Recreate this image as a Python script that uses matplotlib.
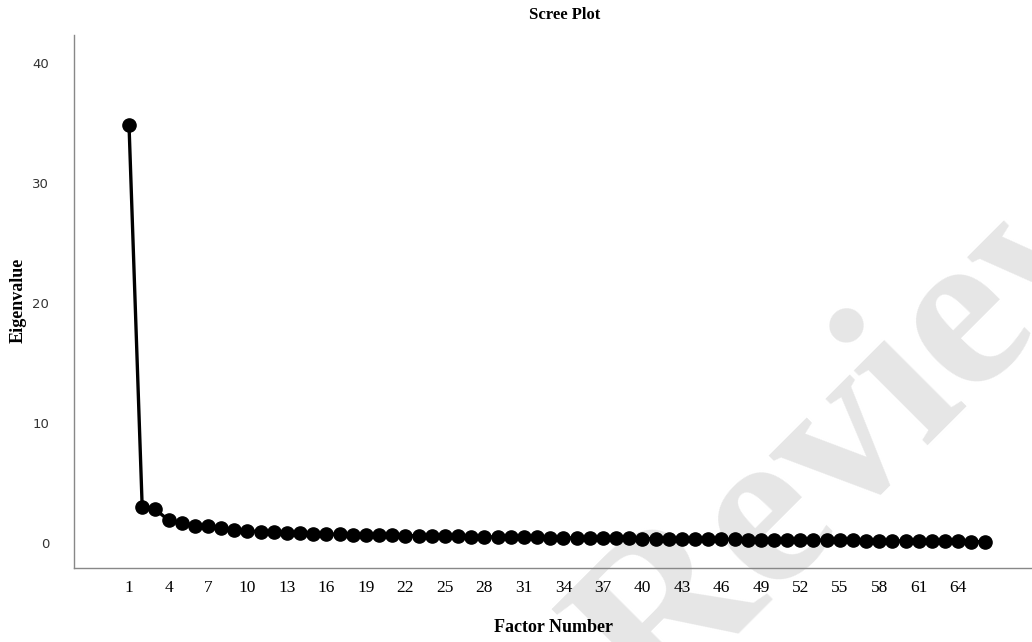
import matplotlib
matplotlib.use("Agg")
import matplotlib.pyplot as plt

factors = list(range(1, 67))
eigenvalues = [34.8, 3.0, 2.8, 1.9, 1.7, 1.45, 1.4, 1.25, 1.05, 1.0,
               0.95, 0.9, 0.85, 0.8, 0.78, 0.75, 0.72, 0.7, 0.68, 0.66,
               0.64, 0.62, 0.6, 0.58, 0.56, 0.55, 0.53, 0.52, 0.5, 0.49,
               0.47, 0.46, 0.45, 0.43, 0.42, 0.41, 0.4, 0.39, 0.38, 0.37,
               0.36, 0.35, 0.34, 0.33, 0.32, 0.31, 0.3, 0.29, 0.28, 0.27,
               0.26, 0.25, 0.24, 0.23, 0.22, 0.21, 0.2, 0.19, 0.18, 0.17,
               0.16, 0.15, 0.14, 0.13, 0.12, 0.11]
x_ticks = list(range(1, 65, 3))
y_ticks = [0, 10, 20, 30, 40]

fig = plt.figure(figsize=(10.32, 6.42), dpi=100)
ax = fig.add_axes([74/1032, 74/642, 1 - 74/1032, (568-35)/642])
ax.patch.set_alpha(0)

# faint watermark behind everything
fig.text(906/1032, 1 - 464/642, "Review", ha="center", va="baseline",
         rotation=45, rotation_mode="anchor", family="Liberation Serif",
         fontweight="bold", fontsize=165, color="#e6e6e6", zorder=-1)

ax.plot(factors[:len(eigenvalues)], eigenvalues, color="black", lw=2.4,
        marker="o", markersize=9.5, zorder=3)

ax.set_xlim(-3.18, 69.6)
ax.set_ylim(-2.08, 42.3)
ax.set_xticks(x_ticks)
ax.set_xticklabels([str(t) for t in x_ticks], family="Liberation Serif",
                   fontsize=12.5, color="black")
ax.set_yticks(y_ticks)
ax.set_yticklabels([str(t) for t in y_ticks], family="DejaVu Sans",
                   fontsize=9.5, color="#333333")
ax.tick_params(axis="both", length=0)
ax.tick_params(axis="x", pad=9)
ax.tick_params(axis="y", pad=18)
for s in ["top", "right"]:
    ax.spines[s].set_visible(False)
for s in ["left", "bottom"]:
    ax.spines[s].set_color("#888888")
    ax.spines[s].set_linewidth(1.0)
    ax.spines[s].set_zorder(4)

fig.text(565/1032, 1 - 15/642, "Scree Plot", ha="center", va="center",
         family="Liberation Serif", fontweight="bold", fontsize=12)
fig.text(553/1032, 1 - 628/642, "Factor Number", ha="center", va="center",
         family="Liberation Serif", fontweight="bold", fontsize=13)
fig.text(18/1032, 1 - 300/642, "Eigenvalue", ha="center", va="center",
         rotation=90, family="Liberation Serif", fontweight="bold",
         fontsize=13)

fig.savefig("out.png", dpi=100)
